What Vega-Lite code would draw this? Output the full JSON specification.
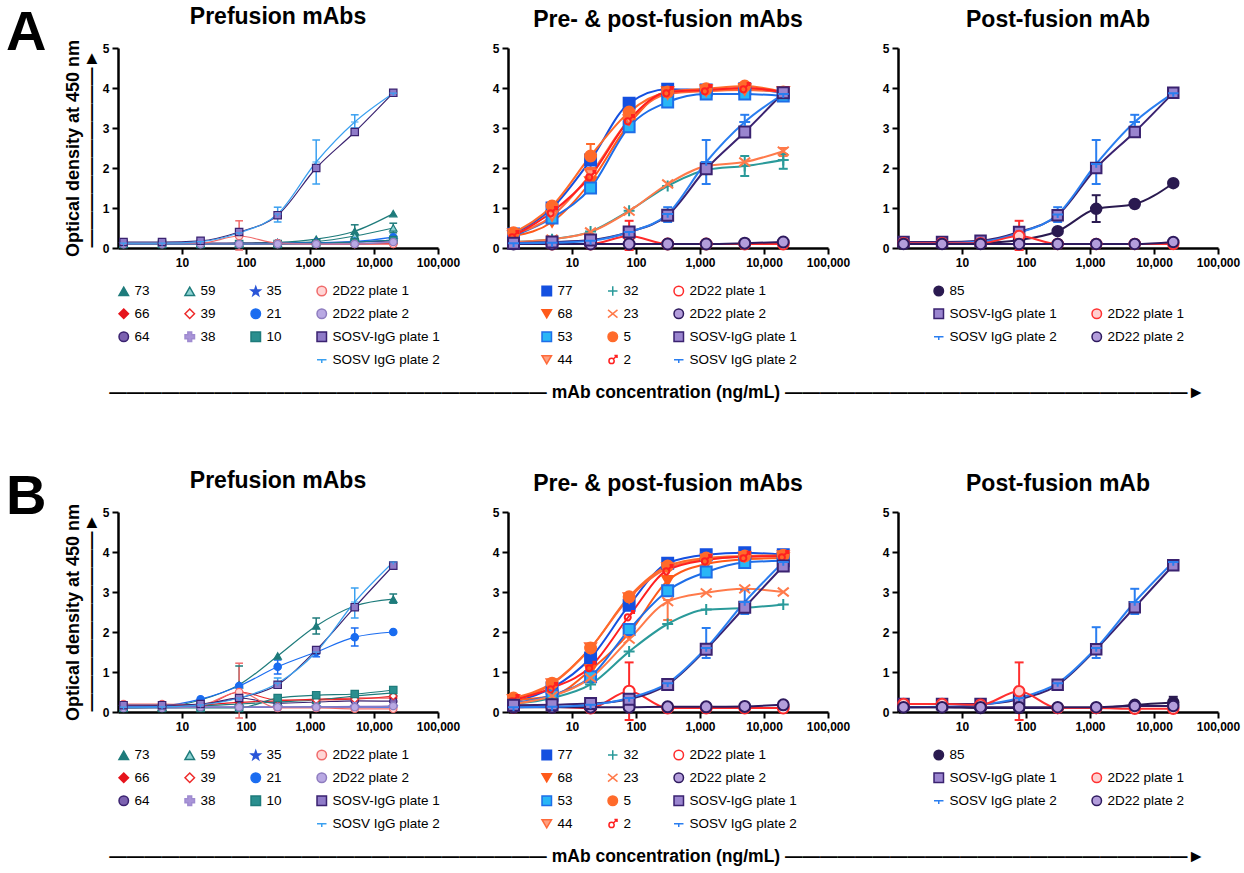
{
"$schema": "https://vega.github.io/schema/vega-lite/v6.json",
"padding": {"left": 5, "top": 5, "right": 5, "bottom": 3},
"background": "white",
"config": {
  "font": "Liberation Sans",
  "view": {"stroke": null},
  "axis": {"grid": false, "domainColor": "#000", "domainWidth": 2.5, "tickColor": "#000", "tickWidth": 2, "tickSize": 6, "labelColor": "#000", "labelFontWeight": "bold", "labelFontSize": 12, "labelPadding": 3, "labelFlush": false, "labelOverlap": false, "titleColor": "#000", "titleFontWeight": "bold", "titleFontSize": 18},
  "title": {"fontSize": 23, "fontWeight": "bold", "color": "#000", "offset": 10, "frame": "group"},
  "legend": {"orient": "bottom", "labelFontSize": 13.5, "labelColor": "#000", "symbolSize": 90, "symbolStrokeWidth": 1.5, "rowPadding": 7, "columnPadding": 32, "offset": 16, "labelLimit": 250, "layout": {"bottom": {"anchor": "middle"}}},
  "concat": {"spacing": 32}
},
"datasets": {
"pts": [
{"p":"A1","s":"73","c":1.22,"y":0.1},{"p":"A1","s":"73","c":4.88,"y":0.1},{"p":"A1","s":"73","c":19.5,"y":0.1},{"p":"A1","s":"73","c":78.1,"y":0.12},{"p":"A1","s":"73","c":312.5,"y":0.14},{"p":"A1","s":"73","c":1250,"y":0.22},{"p":"A1","s":"73","c":5000,"y":0.42},{"p":"A1","s":"73","c":20000,"y":0.86},
{"p":"A1","s":"66","c":1.22,"y":0.1},{"p":"A1","s":"66","c":4.88,"y":0.1},{"p":"A1","s":"66","c":19.5,"y":0.1},{"p":"A1","s":"66","c":78.1,"y":0.1},{"p":"A1","s":"66","c":312.5,"y":0.1},{"p":"A1","s":"66","c":1250,"y":0.1},{"p":"A1","s":"66","c":5000,"y":0.1},{"p":"A1","s":"66","c":20000,"y":0.12},
{"p":"A1","s":"64","c":1.22,"y":0.12},{"p":"A1","s":"64","c":4.88,"y":0.12},{"p":"A1","s":"64","c":19.5,"y":0.12},{"p":"A1","s":"64","c":78.1,"y":0.12},{"p":"A1","s":"64","c":312.5,"y":0.12},{"p":"A1","s":"64","c":1250,"y":0.13},{"p":"A1","s":"64","c":5000,"y":0.15},{"p":"A1","s":"64","c":20000,"y":0.18},
{"p":"A1","s":"59","c":1.22,"y":0.1},{"p":"A1","s":"59","c":4.88,"y":0.1},{"p":"A1","s":"59","c":19.5,"y":0.1},{"p":"A1","s":"59","c":78.1,"y":0.1},{"p":"A1","s":"59","c":312.5,"y":0.12},{"p":"A1","s":"59","c":1250,"y":0.16},{"p":"A1","s":"59","c":5000,"y":0.3},{"p":"A1","s":"59","c":20000,"y":0.5},
{"p":"A1","s":"39","c":1.22,"y":0.1},{"p":"A1","s":"39","c":4.88,"y":0.1},{"p":"A1","s":"39","c":19.5,"y":0.1},{"p":"A1","s":"39","c":78.1,"y":0.1},{"p":"A1","s":"39","c":312.5,"y":0.1},{"p":"A1","s":"39","c":1250,"y":0.1},{"p":"A1","s":"39","c":5000,"y":0.1},{"p":"A1","s":"39","c":20000,"y":0.1},
{"p":"A1","s":"38","c":1.22,"y":0.1},{"p":"A1","s":"38","c":4.88,"y":0.1},{"p":"A1","s":"38","c":19.5,"y":0.1},{"p":"A1","s":"38","c":78.1,"y":0.1},{"p":"A1","s":"38","c":312.5,"y":0.1},{"p":"A1","s":"38","c":1250,"y":0.11},{"p":"A1","s":"38","c":5000,"y":0.12},{"p":"A1","s":"38","c":20000,"y":0.15},
{"p":"A1","s":"35","c":1.22,"y":0.1},{"p":"A1","s":"35","c":4.88,"y":0.1},{"p":"A1","s":"35","c":19.5,"y":0.1},{"p":"A1","s":"35","c":78.1,"y":0.1},{"p":"A1","s":"35","c":312.5,"y":0.11},{"p":"A1","s":"35","c":1250,"y":0.12},{"p":"A1","s":"35","c":5000,"y":0.15},{"p":"A1","s":"35","c":20000,"y":0.2},
{"p":"A1","s":"21","c":1.22,"y":0.1},{"p":"A1","s":"21","c":4.88,"y":0.1},{"p":"A1","s":"21","c":19.5,"y":0.1},{"p":"A1","s":"21","c":78.1,"y":0.1},{"p":"A1","s":"21","c":312.5,"y":0.12},{"p":"A1","s":"21","c":1250,"y":0.13},{"p":"A1","s":"21","c":5000,"y":0.16},{"p":"A1","s":"21","c":20000,"y":0.27},
{"p":"A1","s":"10","c":1.22,"y":0.1},{"p":"A1","s":"10","c":4.88,"y":0.1},{"p":"A1","s":"10","c":19.5,"y":0.1},{"p":"A1","s":"10","c":78.1,"y":0.1},{"p":"A1","s":"10","c":312.5,"y":0.1},{"p":"A1","s":"10","c":1250,"y":0.12},{"p":"A1","s":"10","c":5000,"y":0.15},{"p":"A1","s":"10","c":20000,"y":0.2},
{"p":"A1","s":"2D22 plate 1","c":1.22,"y":0.13},{"p":"A1","s":"2D22 plate 1","c":4.88,"y":0.13},{"p":"A1","s":"2D22 plate 1","c":19.5,"y":0.12},{"p":"A1","s":"2D22 plate 1","c":78.1,"y":0.3},{"p":"A1","s":"2D22 plate 1","c":312.5,"y":0.12},{"p":"A1","s":"2D22 plate 1","c":1250,"y":0.1},{"p":"A1","s":"2D22 plate 1","c":5000,"y":0.1},{"p":"A1","s":"2D22 plate 1","c":20000,"y":0.1},
{"p":"A1","s":"2D22 plate 2","c":1.22,"y":0.1},{"p":"A1","s":"2D22 plate 2","c":4.88,"y":0.1},{"p":"A1","s":"2D22 plate 2","c":19.5,"y":0.1},{"p":"A1","s":"2D22 plate 2","c":78.1,"y":0.1},{"p":"A1","s":"2D22 plate 2","c":312.5,"y":0.1},{"p":"A1","s":"2D22 plate 2","c":1250,"y":0.1},{"p":"A1","s":"2D22 plate 2","c":5000,"y":0.1},{"p":"A1","s":"2D22 plate 2","c":20000,"y":0.15},
{"p":"A1","s":"SOSV-IgG plate 1","c":1.22,"y":0.15},{"p":"A1","s":"SOSV-IgG plate 1","c":4.88,"y":0.15},{"p":"A1","s":"SOSV-IgG plate 1","c":19.5,"y":0.18},{"p":"A1","s":"SOSV-IgG plate 1","c":78.1,"y":0.4},{"p":"A1","s":"SOSV-IgG plate 1","c":312.5,"y":0.82},{"p":"A1","s":"SOSV-IgG plate 1","c":1250,"y":2.0},{"p":"A1","s":"SOSV-IgG plate 1","c":5000,"y":2.9},{"p":"A1","s":"SOSV-IgG plate 1","c":20000,"y":3.88},
{"p":"A1","s":"SOSV IgG plate 2","c":1.22,"y":0.12},{"p":"A1","s":"SOSV IgG plate 2","c":4.88,"y":0.12},{"p":"A1","s":"SOSV IgG plate 2","c":19.5,"y":0.16},{"p":"A1","s":"SOSV IgG plate 2","c":78.1,"y":0.38},{"p":"A1","s":"SOSV IgG plate 2","c":312.5,"y":0.85},{"p":"A1","s":"SOSV IgG plate 2","c":1250,"y":2.15},{"p":"A1","s":"SOSV IgG plate 2","c":5000,"y":3.15},{"p":"A1","s":"SOSV IgG plate 2","c":20000,"y":3.87},

{"p":"A2","s":"77","c":1.22,"y":0.35},{"p":"A2","s":"77","c":4.88,"y":1.0},{"p":"A2","s":"77","c":19.5,"y":2.2},{"p":"A2","s":"77","c":78.1,"y":3.62},{"p":"A2","s":"77","c":312.5,"y":3.97},{"p":"A2","s":"77","c":1250,"y":3.95},{"p":"A2","s":"77","c":5000,"y":3.98},{"p":"A2","s":"77","c":20000,"y":3.88},
{"p":"A2","s":"68","c":1.22,"y":0.3},{"p":"A2","s":"68","c":4.88,"y":0.65},{"p":"A2","s":"68","c":19.5,"y":1.65},{"p":"A2","s":"68","c":78.1,"y":3.1},{"p":"A2","s":"68","c":312.5,"y":3.9},{"p":"A2","s":"68","c":1250,"y":3.95},{"p":"A2","s":"68","c":5000,"y":3.98},{"p":"A2","s":"68","c":20000,"y":3.9},
{"p":"A2","s":"53","c":1.22,"y":0.3},{"p":"A2","s":"53","c":4.88,"y":0.75},{"p":"A2","s":"53","c":19.5,"y":1.5},{"p":"A2","s":"53","c":78.1,"y":3.03},{"p":"A2","s":"53","c":312.5,"y":3.65},{"p":"A2","s":"53","c":1250,"y":3.85},{"p":"A2","s":"53","c":5000,"y":3.85},{"p":"A2","s":"53","c":20000,"y":3.8},
{"p":"A2","s":"44","c":1.22,"y":0.35},{"p":"A2","s":"44","c":4.88,"y":0.8},{"p":"A2","s":"44","c":19.5,"y":1.85},{"p":"A2","s":"44","c":78.1,"y":3.2},{"p":"A2","s":"44","c":312.5,"y":3.85},{"p":"A2","s":"44","c":1250,"y":3.92},{"p":"A2","s":"44","c":5000,"y":3.95},{"p":"A2","s":"44","c":20000,"y":3.9},
{"p":"A2","s":"32","c":1.22,"y":0.15},{"p":"A2","s":"32","c":4.88,"y":0.22},{"p":"A2","s":"32","c":19.5,"y":0.41},{"p":"A2","s":"32","c":78.1,"y":0.93},{"p":"A2","s":"32","c":312.5,"y":1.55},{"p":"A2","s":"32","c":1250,"y":1.95},{"p":"A2","s":"32","c":5000,"y":2.05},{"p":"A2","s":"32","c":20000,"y":2.2},
{"p":"A2","s":"23","c":1.22,"y":0.15},{"p":"A2","s":"23","c":4.88,"y":0.22},{"p":"A2","s":"23","c":19.5,"y":0.4},{"p":"A2","s":"23","c":78.1,"y":0.92},{"p":"A2","s":"23","c":312.5,"y":1.6},{"p":"A2","s":"23","c":1250,"y":2.05},{"p":"A2","s":"23","c":5000,"y":2.15},{"p":"A2","s":"23","c":20000,"y":2.42},
{"p":"A2","s":"5","c":1.22,"y":0.38},{"p":"A2","s":"5","c":4.88,"y":1.05},{"p":"A2","s":"5","c":19.5,"y":2.3},{"p":"A2","s":"5","c":78.1,"y":3.4},{"p":"A2","s":"5","c":312.5,"y":3.9},{"p":"A2","s":"5","c":1250,"y":3.98},{"p":"A2","s":"5","c":5000,"y":4.05},{"p":"A2","s":"5","c":20000,"y":3.9},
{"p":"A2","s":"2","c":1.22,"y":0.3},{"p":"A2","s":"2","c":4.88,"y":0.9},{"p":"A2","s":"2","c":19.5,"y":1.8},{"p":"A2","s":"2","c":78.1,"y":3.2},{"p":"A2","s":"2","c":312.5,"y":3.9},{"p":"A2","s":"2","c":1250,"y":3.95},{"p":"A2","s":"2","c":5000,"y":4.0},{"p":"A2","s":"2","c":20000,"y":3.9},
{"p":"A2","s":"2D22 plate 1","c":1.22,"y":0.12},{"p":"A2","s":"2D22 plate 1","c":4.88,"y":0.1},{"p":"A2","s":"2D22 plate 1","c":19.5,"y":0.1},{"p":"A2","s":"2D22 plate 1","c":78.1,"y":0.3},{"p":"A2","s":"2D22 plate 1","c":312.5,"y":0.1},{"p":"A2","s":"2D22 plate 1","c":1250,"y":0.1},{"p":"A2","s":"2D22 plate 1","c":5000,"y":0.1},{"p":"A2","s":"2D22 plate 1","c":20000,"y":0.1},
{"p":"A2","s":"2D22 plate 2","c":1.22,"y":0.1},{"p":"A2","s":"2D22 plate 2","c":4.88,"y":0.1},{"p":"A2","s":"2D22 plate 2","c":19.5,"y":0.1},{"p":"A2","s":"2D22 plate 2","c":78.1,"y":0.1},{"p":"A2","s":"2D22 plate 2","c":312.5,"y":0.1},{"p":"A2","s":"2D22 plate 2","c":1250,"y":0.1},{"p":"A2","s":"2D22 plate 2","c":5000,"y":0.12},{"p":"A2","s":"2D22 plate 2","c":20000,"y":0.15},
{"p":"A2","s":"SOSV-IgG plate 1","c":1.22,"y":0.12},{"p":"A2","s":"SOSV-IgG plate 1","c":4.88,"y":0.15},{"p":"A2","s":"SOSV-IgG plate 1","c":19.5,"y":0.2},{"p":"A2","s":"SOSV-IgG plate 1","c":78.1,"y":0.4},{"p":"A2","s":"SOSV-IgG plate 1","c":312.5,"y":0.82},{"p":"A2","s":"SOSV-IgG plate 1","c":1250,"y":1.98},{"p":"A2","s":"SOSV-IgG plate 1","c":5000,"y":2.9},{"p":"A2","s":"SOSV-IgG plate 1","c":20000,"y":3.88},
{"p":"A2","s":"SOSV IgG plate 2","c":1.22,"y":0.12},{"p":"A2","s":"SOSV IgG plate 2","c":4.88,"y":0.13},{"p":"A2","s":"SOSV IgG plate 2","c":19.5,"y":0.18},{"p":"A2","s":"SOSV IgG plate 2","c":78.1,"y":0.4},{"p":"A2","s":"SOSV IgG plate 2","c":312.5,"y":0.85},{"p":"A2","s":"SOSV IgG plate 2","c":1250,"y":2.15},{"p":"A2","s":"SOSV IgG plate 2","c":5000,"y":3.15},{"p":"A2","s":"SOSV IgG plate 2","c":20000,"y":3.85},

{"p":"A3","s":"85","c":1.22,"y":0.12},{"p":"A3","s":"85","c":4.88,"y":0.12},{"p":"A3","s":"85","c":19.5,"y":0.13},{"p":"A3","s":"85","c":78.1,"y":0.2},{"p":"A3","s":"85","c":312.5,"y":0.42},{"p":"A3","s":"85","c":1250,"y":0.98},{"p":"A3","s":"85","c":5000,"y":1.1},{"p":"A3","s":"85","c":20000,"y":1.62},
{"p":"A3","s":"SOSV-IgG plate 1","c":1.22,"y":0.15},{"p":"A3","s":"SOSV-IgG plate 1","c":4.88,"y":0.15},{"p":"A3","s":"SOSV-IgG plate 1","c":19.5,"y":0.18},{"p":"A3","s":"SOSV-IgG plate 1","c":78.1,"y":0.4},{"p":"A3","s":"SOSV-IgG plate 1","c":312.5,"y":0.82},{"p":"A3","s":"SOSV-IgG plate 1","c":1250,"y":2.0},{"p":"A3","s":"SOSV-IgG plate 1","c":5000,"y":2.9},{"p":"A3","s":"SOSV-IgG plate 1","c":20000,"y":3.88},
{"p":"A3","s":"SOSV IgG plate 2","c":1.22,"y":0.12},{"p":"A3","s":"SOSV IgG plate 2","c":4.88,"y":0.12},{"p":"A3","s":"SOSV IgG plate 2","c":19.5,"y":0.16},{"p":"A3","s":"SOSV IgG plate 2","c":78.1,"y":0.38},{"p":"A3","s":"SOSV IgG plate 2","c":312.5,"y":0.84},{"p":"A3","s":"SOSV IgG plate 2","c":1250,"y":2.1},{"p":"A3","s":"SOSV IgG plate 2","c":5000,"y":3.15},{"p":"A3","s":"SOSV IgG plate 2","c":20000,"y":3.87},
{"p":"A3","s":"2D22 plate 1","c":1.22,"y":0.12},{"p":"A3","s":"2D22 plate 1","c":4.88,"y":0.12},{"p":"A3","s":"2D22 plate 1","c":19.5,"y":0.12},{"p":"A3","s":"2D22 plate 1","c":78.1,"y":0.3},{"p":"A3","s":"2D22 plate 1","c":312.5,"y":0.1},{"p":"A3","s":"2D22 plate 1","c":1250,"y":0.1},{"p":"A3","s":"2D22 plate 1","c":5000,"y":0.1},{"p":"A3","s":"2D22 plate 1","c":20000,"y":0.1},
{"p":"A3","s":"2D22 plate 2","c":1.22,"y":0.1},{"p":"A3","s":"2D22 plate 2","c":4.88,"y":0.1},{"p":"A3","s":"2D22 plate 2","c":19.5,"y":0.1},{"p":"A3","s":"2D22 plate 2","c":78.1,"y":0.1},{"p":"A3","s":"2D22 plate 2","c":312.5,"y":0.1},{"p":"A3","s":"2D22 plate 2","c":1250,"y":0.1},{"p":"A3","s":"2D22 plate 2","c":5000,"y":0.1},{"p":"A3","s":"2D22 plate 2","c":20000,"y":0.15},

{"p":"B1","s":"73","c":1.22,"y":0.1},{"p":"B1","s":"73","c":4.88,"y":0.12},{"p":"B1","s":"73","c":19.5,"y":0.3},{"p":"B1","s":"73","c":78.1,"y":0.68},{"p":"B1","s":"73","c":312.5,"y":1.4},{"p":"B1","s":"73","c":1250,"y":2.15},{"p":"B1","s":"73","c":5000,"y":2.65},{"p":"B1","s":"73","c":20000,"y":2.82},
{"p":"B1","s":"66","c":1.22,"y":0.12},{"p":"B1","s":"66","c":4.88,"y":0.15},{"p":"B1","s":"66","c":19.5,"y":0.18},{"p":"B1","s":"66","c":78.1,"y":0.24},{"p":"B1","s":"66","c":312.5,"y":0.28},{"p":"B1","s":"66","c":1250,"y":0.32},{"p":"B1","s":"66","c":5000,"y":0.35},{"p":"B1","s":"66","c":20000,"y":0.35},
{"p":"B1","s":"64","c":1.22,"y":0.15},{"p":"B1","s":"64","c":4.88,"y":0.15},{"p":"B1","s":"64","c":19.5,"y":0.18},{"p":"B1","s":"64","c":78.1,"y":0.35},{"p":"B1","s":"64","c":312.5,"y":0.22},{"p":"B1","s":"64","c":1250,"y":0.25},{"p":"B1","s":"64","c":5000,"y":0.28},{"p":"B1","s":"64","c":20000,"y":0.27},
{"p":"B1","s":"59","c":1.22,"y":0.1},{"p":"B1","s":"59","c":4.88,"y":0.12},{"p":"B1","s":"59","c":19.5,"y":0.15},{"p":"B1","s":"59","c":78.1,"y":0.2},{"p":"B1","s":"59","c":312.5,"y":0.25},{"p":"B1","s":"59","c":1250,"y":0.3},{"p":"B1","s":"59","c":5000,"y":0.4},{"p":"B1","s":"59","c":20000,"y":0.48},
{"p":"B1","s":"39","c":1.22,"y":0.15},{"p":"B1","s":"39","c":4.88,"y":0.15},{"p":"B1","s":"39","c":19.5,"y":0.15},{"p":"B1","s":"39","c":78.1,"y":0.5},{"p":"B1","s":"39","c":312.5,"y":0.3},{"p":"B1","s":"39","c":1250,"y":0.3},{"p":"B1","s":"39","c":5000,"y":0.32},{"p":"B1","s":"39","c":20000,"y":0.4},
{"p":"B1","s":"38","c":1.22,"y":0.12},{"p":"B1","s":"38","c":4.88,"y":0.12},{"p":"B1","s":"38","c":19.5,"y":0.12},{"p":"B1","s":"38","c":78.1,"y":0.12},{"p":"B1","s":"38","c":312.5,"y":0.12},{"p":"B1","s":"38","c":1250,"y":0.13},{"p":"B1","s":"38","c":5000,"y":0.14},{"p":"B1","s":"38","c":20000,"y":0.15},
{"p":"B1","s":"35","c":1.22,"y":0.12},{"p":"B1","s":"35","c":4.88,"y":0.12},{"p":"B1","s":"35","c":19.5,"y":0.12},{"p":"B1","s":"35","c":78.1,"y":0.12},{"p":"B1","s":"35","c":312.5,"y":0.12},{"p":"B1","s":"35","c":1250,"y":0.12},{"p":"B1","s":"35","c":5000,"y":0.12},{"p":"B1","s":"35","c":20000,"y":0.12},
{"p":"B1","s":"21","c":1.22,"y":0.12},{"p":"B1","s":"21","c":4.88,"y":0.15},{"p":"B1","s":"21","c":19.5,"y":0.32},{"p":"B1","s":"21","c":78.1,"y":0.65},{"p":"B1","s":"21","c":312.5,"y":1.13},{"p":"B1","s":"21","c":1250,"y":1.5},{"p":"B1","s":"21","c":5000,"y":1.87},{"p":"B1","s":"21","c":20000,"y":2.0},
{"p":"B1","s":"10","c":1.22,"y":0.1},{"p":"B1","s":"10","c":4.88,"y":0.1},{"p":"B1","s":"10","c":19.5,"y":0.1},{"p":"B1","s":"10","c":78.1,"y":0.1},{"p":"B1","s":"10","c":312.5,"y":0.35},{"p":"B1","s":"10","c":1250,"y":0.42},{"p":"B1","s":"10","c":5000,"y":0.45},{"p":"B1","s":"10","c":20000,"y":0.55},
{"p":"B1","s":"2D22 plate 1","c":1.22,"y":0.2},{"p":"B1","s":"2D22 plate 1","c":4.88,"y":0.2},{"p":"B1","s":"2D22 plate 1","c":19.5,"y":0.18},{"p":"B1","s":"2D22 plate 1","c":78.1,"y":0.5},{"p":"B1","s":"2D22 plate 1","c":312.5,"y":0.1},{"p":"B1","s":"2D22 plate 1","c":1250,"y":0.1},{"p":"B1","s":"2D22 plate 1","c":5000,"y":0.08},{"p":"B1","s":"2D22 plate 1","c":20000,"y":0.08},
{"p":"B1","s":"2D22 plate 2","c":1.22,"y":0.1},{"p":"B1","s":"2D22 plate 2","c":4.88,"y":0.1},{"p":"B1","s":"2D22 plate 2","c":19.5,"y":0.12},{"p":"B1","s":"2D22 plate 2","c":78.1,"y":0.12},{"p":"B1","s":"2D22 plate 2","c":312.5,"y":0.12},{"p":"B1","s":"2D22 plate 2","c":1250,"y":0.12},{"p":"B1","s":"2D22 plate 2","c":5000,"y":0.12},{"p":"B1","s":"2D22 plate 2","c":20000,"y":0.15},
{"p":"B1","s":"SOSV-IgG plate 1","c":1.22,"y":0.17},{"p":"B1","s":"SOSV-IgG plate 1","c":4.88,"y":0.17},{"p":"B1","s":"SOSV-IgG plate 1","c":19.5,"y":0.2},{"p":"B1","s":"SOSV-IgG plate 1","c":78.1,"y":0.35},{"p":"B1","s":"SOSV-IgG plate 1","c":312.5,"y":0.68},{"p":"B1","s":"SOSV-IgG plate 1","c":1250,"y":1.55},{"p":"B1","s":"SOSV-IgG plate 1","c":5000,"y":2.62},{"p":"B1","s":"SOSV-IgG plate 1","c":20000,"y":3.66},
{"p":"B1","s":"SOSV IgG plate 2","c":1.22,"y":0.12},{"p":"B1","s":"SOSV IgG plate 2","c":4.88,"y":0.13},{"p":"B1","s":"SOSV IgG plate 2","c":19.5,"y":0.18},{"p":"B1","s":"SOSV IgG plate 2","c":78.1,"y":0.35},{"p":"B1","s":"SOSV IgG plate 2","c":312.5,"y":0.72},{"p":"B1","s":"SOSV IgG plate 2","c":1250,"y":1.5},{"p":"B1","s":"SOSV IgG plate 2","c":5000,"y":2.75},{"p":"B1","s":"SOSV IgG plate 2","c":20000,"y":3.75},

{"p":"B2","s":"77","c":1.22,"y":0.25},{"p":"B2","s":"77","c":4.88,"y":0.6},{"p":"B2","s":"77","c":19.5,"y":1.35},{"p":"B2","s":"77","c":78.1,"y":2.67},{"p":"B2","s":"77","c":312.5,"y":3.72},{"p":"B2","s":"77","c":1250,"y":3.93},{"p":"B2","s":"77","c":5000,"y":3.98},{"p":"B2","s":"77","c":20000,"y":3.93},
{"p":"B2","s":"68","c":1.22,"y":0.3},{"p":"B2","s":"68","c":4.88,"y":0.4},{"p":"B2","s":"68","c":19.5,"y":1.05},{"p":"B2","s":"68","c":78.1,"y":1.97},{"p":"B2","s":"68","c":312.5,"y":3.28},{"p":"B2","s":"68","c":1250,"y":3.7},{"p":"B2","s":"68","c":5000,"y":3.82},{"p":"B2","s":"68","c":20000,"y":3.85},
{"p":"B2","s":"53","c":1.22,"y":0.22},{"p":"B2","s":"53","c":4.88,"y":0.42},{"p":"B2","s":"53","c":19.5,"y":0.88},{"p":"B2","s":"53","c":78.1,"y":2.06},{"p":"B2","s":"53","c":312.5,"y":3.03},{"p":"B2","s":"53","c":1250,"y":3.5},{"p":"B2","s":"53","c":5000,"y":3.74},{"p":"B2","s":"53","c":20000,"y":3.78},
{"p":"B2","s":"44","c":1.22,"y":0.3},{"p":"B2","s":"44","c":4.88,"y":0.7},{"p":"B2","s":"44","c":19.5,"y":1.6},{"p":"B2","s":"44","c":78.1,"y":2.85},{"p":"B2","s":"44","c":312.5,"y":3.6},{"p":"B2","s":"44","c":1250,"y":3.82},{"p":"B2","s":"44","c":5000,"y":3.88},{"p":"B2","s":"44","c":20000,"y":3.9},
{"p":"B2","s":"32","c":1.22,"y":0.2},{"p":"B2","s":"32","c":4.88,"y":0.35},{"p":"B2","s":"32","c":19.5,"y":0.69},{"p":"B2","s":"32","c":78.1,"y":1.51},{"p":"B2","s":"32","c":312.5,"y":2.2},{"p":"B2","s":"32","c":1250,"y":2.56},{"p":"B2","s":"32","c":5000,"y":2.6},{"p":"B2","s":"32","c":20000,"y":2.69},
{"p":"B2","s":"23","c":1.22,"y":0.2},{"p":"B2","s":"23","c":4.88,"y":0.4},{"p":"B2","s":"23","c":19.5,"y":0.85},{"p":"B2","s":"23","c":78.1,"y":1.82},{"p":"B2","s":"23","c":312.5,"y":2.76},{"p":"B2","s":"23","c":1250,"y":2.98},{"p":"B2","s":"23","c":5000,"y":3.08},{"p":"B2","s":"23","c":20000,"y":3.0},
{"p":"B2","s":"5","c":1.22,"y":0.35},{"p":"B2","s":"5","c":4.88,"y":0.72},{"p":"B2","s":"5","c":19.5,"y":1.6},{"p":"B2","s":"5","c":78.1,"y":2.88},{"p":"B2","s":"5","c":312.5,"y":3.65},{"p":"B2","s":"5","c":1250,"y":3.85},{"p":"B2","s":"5","c":5000,"y":3.9},{"p":"B2","s":"5","c":20000,"y":3.92},
{"p":"B2","s":"2","c":1.22,"y":0.3},{"p":"B2","s":"2","c":4.88,"y":0.6},{"p":"B2","s":"2","c":19.5,"y":1.13},{"p":"B2","s":"2","c":78.1,"y":2.4},{"p":"B2","s":"2","c":312.5,"y":3.55},{"p":"B2","s":"2","c":1250,"y":3.8},{"p":"B2","s":"2","c":5000,"y":3.88},{"p":"B2","s":"2","c":20000,"y":3.9},
{"p":"B2","s":"2D22 plate 1","c":1.22,"y":0.12},{"p":"B2","s":"2D22 plate 1","c":4.88,"y":0.13},{"p":"B2","s":"2D22 plate 1","c":19.5,"y":0.1},{"p":"B2","s":"2D22 plate 1","c":78.1,"y":0.52},{"p":"B2","s":"2D22 plate 1","c":312.5,"y":0.1},{"p":"B2","s":"2D22 plate 1","c":1250,"y":0.1},{"p":"B2","s":"2D22 plate 1","c":5000,"y":0.1},{"p":"B2","s":"2D22 plate 1","c":20000,"y":0.1},
{"p":"B2","s":"2D22 plate 2","c":1.22,"y":0.12},{"p":"B2","s":"2D22 plate 2","c":4.88,"y":0.12},{"p":"B2","s":"2D22 plate 2","c":19.5,"y":0.12},{"p":"B2","s":"2D22 plate 2","c":78.1,"y":0.12},{"p":"B2","s":"2D22 plate 2","c":312.5,"y":0.13},{"p":"B2","s":"2D22 plate 2","c":1250,"y":0.13},{"p":"B2","s":"2D22 plate 2","c":5000,"y":0.14},{"p":"B2","s":"2D22 plate 2","c":20000,"y":0.18},
{"p":"B2","s":"SOSV-IgG plate 1","c":1.22,"y":0.17},{"p":"B2","s":"SOSV-IgG plate 1","c":4.88,"y":0.18},{"p":"B2","s":"SOSV-IgG plate 1","c":19.5,"y":0.21},{"p":"B2","s":"SOSV-IgG plate 1","c":78.1,"y":0.32},{"p":"B2","s":"SOSV-IgG plate 1","c":312.5,"y":0.69},{"p":"B2","s":"SOSV-IgG plate 1","c":1250,"y":1.57},{"p":"B2","s":"SOSV-IgG plate 1","c":5000,"y":2.62},{"p":"B2","s":"SOSV-IgG plate 1","c":20000,"y":3.65},
{"p":"B2","s":"SOSV IgG plate 2","c":1.22,"y":0.12},{"p":"B2","s":"SOSV IgG plate 2","c":4.88,"y":0.13},{"p":"B2","s":"SOSV IgG plate 2","c":19.5,"y":0.18},{"p":"B2","s":"SOSV IgG plate 2","c":78.1,"y":0.35},{"p":"B2","s":"SOSV IgG plate 2","c":312.5,"y":0.72},{"p":"B2","s":"SOSV IgG plate 2","c":1250,"y":1.6},{"p":"B2","s":"SOSV IgG plate 2","c":5000,"y":2.75},{"p":"B2","s":"SOSV IgG plate 2","c":20000,"y":3.75},

{"p":"B3","s":"85","c":1.22,"y":0.12},{"p":"B3","s":"85","c":4.88,"y":0.12},{"p":"B3","s":"85","c":19.5,"y":0.1},{"p":"B3","s":"85","c":78.1,"y":0.1},{"p":"B3","s":"85","c":312.5,"y":0.1},{"p":"B3","s":"85","c":1250,"y":0.1},{"p":"B3","s":"85","c":5000,"y":0.18},{"p":"B3","s":"85","c":20000,"y":0.24},
{"p":"B3","s":"SOSV-IgG plate 1","c":1.22,"y":0.2},{"p":"B3","s":"SOSV-IgG plate 1","c":4.88,"y":0.2},{"p":"B3","s":"SOSV-IgG plate 1","c":19.5,"y":0.2},{"p":"B3","s":"SOSV-IgG plate 1","c":78.1,"y":0.32},{"p":"B3","s":"SOSV-IgG plate 1","c":312.5,"y":0.68},{"p":"B3","s":"SOSV-IgG plate 1","c":1250,"y":1.57},{"p":"B3","s":"SOSV-IgG plate 1","c":5000,"y":2.62},{"p":"B3","s":"SOSV-IgG plate 1","c":20000,"y":3.67},
{"p":"B3","s":"SOSV IgG plate 2","c":1.22,"y":0.12},{"p":"B3","s":"SOSV IgG plate 2","c":4.88,"y":0.13},{"p":"B3","s":"SOSV IgG plate 2","c":19.5,"y":0.18},{"p":"B3","s":"SOSV IgG plate 2","c":78.1,"y":0.35},{"p":"B3","s":"SOSV IgG plate 2","c":312.5,"y":0.72},{"p":"B3","s":"SOSV IgG plate 2","c":1250,"y":1.6},{"p":"B3","s":"SOSV IgG plate 2","c":5000,"y":2.75},{"p":"B3","s":"SOSV IgG plate 2","c":20000,"y":3.75},
{"p":"B3","s":"2D22 plate 1","c":1.22,"y":0.2},{"p":"B3","s":"2D22 plate 1","c":4.88,"y":0.2},{"p":"B3","s":"2D22 plate 1","c":19.5,"y":0.18},{"p":"B3","s":"2D22 plate 1","c":78.1,"y":0.52},{"p":"B3","s":"2D22 plate 1","c":312.5,"y":0.1},{"p":"B3","s":"2D22 plate 1","c":1250,"y":0.1},{"p":"B3","s":"2D22 plate 1","c":5000,"y":0.08},{"p":"B3","s":"2D22 plate 1","c":20000,"y":0.08},
{"p":"B3","s":"2D22 plate 2","c":1.22,"y":0.12},{"p":"B3","s":"2D22 plate 2","c":4.88,"y":0.12},{"p":"B3","s":"2D22 plate 2","c":19.5,"y":0.12},{"p":"B3","s":"2D22 plate 2","c":78.1,"y":0.12},{"p":"B3","s":"2D22 plate 2","c":312.5,"y":0.12},{"p":"B3","s":"2D22 plate 2","c":1250,"y":0.12},{"p":"B3","s":"2D22 plate 2","c":5000,"y":0.15},{"p":"B3","s":"2D22 plate 2","c":20000,"y":0.15}
],
"err": [
{"p":"A1","s":"2D22 plate 1","c":78.1,"lo":-0.05,"hi":0.68},
{"p":"A1","s":"SOSV IgG plate 2","c":312.5,"lo":0.65,"hi":1.02},
{"p":"A1","s":"SOSV IgG plate 2","c":1250,"lo":1.6,"hi":2.7},
{"p":"A1","s":"SOSV IgG plate 2","c":5000,"lo":3.0,"hi":3.33},
{"p":"A1","s":"73","c":5000,"lo":0.28,"hi":0.58},
{"p":"A1","s":"59","c":20000,"lo":0.38,"hi":0.62},
{"p":"A2","s":"2D22 plate 1","c":78.1,"lo":-0.05,"hi":0.68},
{"p":"A2","s":"SOSV IgG plate 2","c":312.5,"lo":0.65,"hi":1.02},
{"p":"A2","s":"SOSV IgG plate 2","c":1250,"lo":1.6,"hi":2.7},
{"p":"A2","s":"SOSV IgG plate 2","c":5000,"lo":3.0,"hi":3.33},
{"p":"A2","s":"5","c":19.5,"lo":1.95,"hi":2.6},
{"p":"A2","s":"68","c":78.1,"lo":3.0,"hi":3.42},
{"p":"A2","s":"44","c":19.5,"lo":1.7,"hi":2.0},
{"p":"A2","s":"32","c":5000,"lo":1.8,"hi":2.3},
{"p":"A2","s":"32","c":20000,"lo":1.98,"hi":2.35},
{"p":"A2","s":"23","c":20000,"lo":2.3,"hi":2.5},
{"p":"A3","s":"2D22 plate 1","c":78.1,"lo":-0.05,"hi":0.68},
{"p":"A3","s":"SOSV IgG plate 2","c":312.5,"lo":0.65,"hi":1.02},
{"p":"A3","s":"SOSV IgG plate 2","c":1250,"lo":1.6,"hi":2.7},
{"p":"A3","s":"SOSV IgG plate 2","c":5000,"lo":3.0,"hi":3.33},
{"p":"A3","s":"85","c":1250,"lo":0.65,"hi":1.32},
{"p":"B1","s":"73","c":78.1,"lo":0.2,"hi":1.15},
{"p":"B1","s":"73","c":1250,"lo":1.95,"hi":2.35},
{"p":"B1","s":"73","c":20000,"lo":2.72,"hi":2.95},
{"p":"B1","s":"21","c":312.5,"lo":0.95,"hi":1.3},
{"p":"B1","s":"21","c":1250,"lo":1.38,"hi":1.62},
{"p":"B1","s":"21","c":5000,"lo":1.65,"hi":2.1},
{"p":"B1","s":"SOSV IgG plate 2","c":312.5,"lo":0.6,"hi":0.85},
{"p":"B1","s":"SOSV IgG plate 2","c":5000,"lo":2.35,"hi":3.1},
{"p":"B1","s":"2D22 plate 1","c":78.1,"lo":-0.15,"hi":1.22},
{"p":"B2","s":"2D22 plate 1","c":78.1,"lo":-0.2,"hi":1.24},
{"p":"B2","s":"SOSV IgG plate 2","c":1250,"lo":1.35,"hi":2.1},
{"p":"B2","s":"SOSV IgG plate 2","c":5000,"lo":2.45,"hi":3.05},
{"p":"B2","s":"23","c":312.5,"lo":2.3,"hi":2.8},
{"p":"B2","s":"2","c":19.5,"lo":1.0,"hi":1.22},
{"p":"B3","s":"2D22 plate 1","c":78.1,"lo":-0.2,"hi":1.24},
{"p":"B3","s":"SOSV IgG plate 2","c":1250,"lo":1.35,"hi":2.12},
{"p":"B3","s":"SOSV IgG plate 2","c":5000,"lo":2.45,"hi":3.08},
{"p":"B3","s":"85","c":20000,"lo":0.15,"hi":0.38}
]
},
"resolve": {"scale": {"stroke": "independent", "fill": "independent", "shape": "independent"}, "legend": {"stroke": "independent", "fill": "independent", "shape": "independent"}},
"spacing": 67,
"vconcat": [
{
"title": {"text": "A", "orient": "left", "anchor": "end", "angle": 0, "align": "left", "baseline": "top", "fontSize": 56, "offset": 18, "frame": "bounds"},
"resolve": {"scale": {"stroke": "independent", "fill": "independent", "shape": "independent"}, "legend": {"stroke": "independent", "fill": "independent", "shape": "independent"}},
"vconcat": [
{
"title": {"text": "————————————————————————— mAb concentration (ng/mL) ———————————————————————►", "orient": "bottom", "fontSize": 17.5, "offset": 16, "frame": "bounds", "dx": 45},
"resolve": {"scale": {"stroke": "independent", "fill": "independent", "shape": "independent"}, "legend": {"stroke": "independent", "fill": "independent", "shape": "independent"}},
"hconcat": [
{
"width": 320, "height": 200, "title": "Prefusion mAbs",
"encoding": {
  "x": {"field": "c", "type": "quantitative", "scale": {"type": "log", "domain": [1, 100000], "nice": false}, "axis": {"values": [10, 100, 1000, 10000, 100000], "format": ",", "title": null}},
  "y": {"field": "y", "type": "quantitative", "scale": {"domain": [0, 5], "nice": false}, "axis": {"values": [0, 1, 2, 3, 4, 5], "title": ["Optical density at 450 nm", "——————————►"], "titlePadding": 2, "titleLineHeight": 18}},
  "stroke": {"field": "s", "type": "nominal", "scale": {"domain": ["73","59","35","2D22 plate 1","66","39","21","2D22 plate 2","64","38","10","SOSV-IgG plate 1","_1","_2","_3","SOSV IgG plate 2"], "range": ["#1e7b7b","#1e7b7b","#2a55d8","#f06b6b","#e6141c","#ee2a2a","#1a6cf0","#8e7cbf","#3a2270","#9f8bd0","#1e7b7b","#3a2270","transparent","transparent","transparent","#3aa0f0"]}, "legend": {"columns": 4, "title": null, "labelExpr": "indexof(datum.label,'_')==0 ? '' : datum.label"}}
},
"layer": [
{"data": {"name": "pts"}, "transform": [{"filter": "datum.p=='A1'"}], "mark": {"type": "line", "interpolate": "monotone", "strokeWidth": 1.2}, "encoding": {}},
{"data": {"name": "err"}, "transform": [{"filter": "datum.p=='A1'"}], "mark": {"type": "rule", "strokeWidth": 1.5},
 "encoding": {"y": {"field": "lo", "type": "quantitative", "scale": {"domain": [0, 5], "nice": false}, "axis": {"values": [0, 1, 2, 3, 4, 5], "title": ["Optical density at 450 nm", "——————————►"], "titlePadding": 2, "titleLineHeight": 18}}, "y2": {"field": "hi"}}},
{"data": {"name": "err"}, "transform": [{"filter": "datum.p=='A1'"}], "mark": {"type": "point", "shape": "stroke", "size": 60, "strokeWidth": 1.5, "opacity": 1},
 "encoding": {"y": {"field": "lo", "type": "quantitative", "scale": {"domain": [0, 5], "nice": false}, "axis": {"values": [0, 1, 2, 3, 4, 5], "title": ["Optical density at 450 nm", "——————————►"], "titlePadding": 2, "titleLineHeight": 18}}}},
{"data": {"name": "err"}, "transform": [{"filter": "datum.p=='A1'"}], "mark": {"type": "point", "shape": "stroke", "size": 60, "strokeWidth": 1.5, "opacity": 1},
 "encoding": {"y": {"field": "hi", "type": "quantitative", "scale": {"domain": [0, 5], "nice": false}, "axis": {"values": [0, 1, 2, 3, 4, 5], "title": ["Optical density at 450 nm", "——————————►"], "titlePadding": 2, "titleLineHeight": 18}}}},
{"data": {"name": "pts"}, "transform": [{"filter": "datum.p=='A1'"}], "mark": {"type": "point", "filled": true, "size": 55, "strokeWidth": 1.2, "opacity": 1},
 "encoding": {
  "fill": {"field": "s", "type": "nominal", "scale": {"domain": ["73","59","35","2D22 plate 1","66","39","21","2D22 plate 2","64","38","10","SOSV-IgG plate 1","_1","_2","_3","SOSV IgG plate 2"], "range": ["#1e7b7b","#8fd3d3","#2a55d8","#ffd6d6","#e6141c","#ffffff","#1a6cf0","#b9a9e3","#7c62b0","#a994d8","#2a8f8f","#8f7bc8","transparent","transparent","transparent","#3aa0f0"]}, "legend": {"columns": 4, "title": null, "labelExpr": "indexof(datum.label,'_')==0 ? '' : datum.label"}},
  "shape": {"field": "s", "type": "nominal", "scale": {"domain": ["73","59","35","2D22 plate 1","66","39","21","2D22 plate 2","64","38","10","SOSV-IgG plate 1","_1","_2","_3","SOSV IgG plate 2"], "range": ["triangle-up","triangle-up","M0,-1L0.235,-0.324L0.951,-0.309L0.38,0.124L0.588,0.809L0,0.4L-0.588,0.809L-0.38,0.124L-0.951,-0.309L-0.235,-0.324Z","circle","diamond","diamond","circle","circle","circle","cross","square","square","circle","circle","circle","M-1,0L1,0M0,0L0,0.7"]}, "legend": {"columns": 4, "title": null, "labelExpr": "indexof(datum.label,'_')==0 ? '' : datum.label"}}
 }}
]
},
{
"width": 320, "height": 200, "title": "Pre- & post-fusion mAbs",
"encoding": {
  "x": {"field": "c", "type": "quantitative", "scale": {"type": "log", "domain": [1, 100000], "nice": false}, "axis": {"values": [10, 100, 1000, 10000, 100000], "format": ",", "title": null}},
  "y": {"field": "y", "type": "quantitative", "scale": {"domain": [0, 5], "nice": false}, "axis": {"values": [0, 1, 2, 3, 4, 5], "title": null}},
  "stroke": {"field": "s", "type": "nominal", "scale": {"domain": ["77","32","2D22 plate 1","68","23","2D22 plate 2","53","5","SOSV-IgG plate 1","44","2","SOSV IgG plate 2"], "range": ["#1450e0","#2a9a9a","#ff2a2a","#ff5a1a","#ff7a4a","#2e1a5e","#1e6ee8","#ff6a2a","#3a2270","#ff6a3a","#ff2020","#2a7ef0"]}, "legend": {"columns": 3, "title": null}}
},
"layer": [
{"data": {"name": "pts"}, "transform": [{"filter": "datum.p=='A2'"}], "mark": {"type": "line", "interpolate": "monotone", "strokeWidth": 2}, "encoding": {}},
{"data": {"name": "err"}, "transform": [{"filter": "datum.p=='A2'"}], "mark": {"type": "rule", "strokeWidth": 2},
 "encoding": {"y": {"field": "lo", "type": "quantitative", "scale": {"domain": [0, 5], "nice": false}, "axis": {"values": [0, 1, 2, 3, 4, 5], "title": null}}, "y2": {"field": "hi"}}},
{"data": {"name": "err"}, "transform": [{"filter": "datum.p=='A2'"}], "mark": {"type": "point", "shape": "stroke", "size": 80, "strokeWidth": 2, "opacity": 1},
 "encoding": {"y": {"field": "lo", "type": "quantitative", "scale": {"domain": [0, 5], "nice": false}, "axis": {"values": [0, 1, 2, 3, 4, 5], "title": null}}}},
{"data": {"name": "err"}, "transform": [{"filter": "datum.p=='A2'"}], "mark": {"type": "point", "shape": "stroke", "size": 80, "strokeWidth": 2, "opacity": 1},
 "encoding": {"y": {"field": "hi", "type": "quantitative", "scale": {"domain": [0, 5], "nice": false}, "axis": {"values": [0, 1, 2, 3, 4, 5], "title": null}}}},
{"data": {"name": "pts"}, "transform": [{"filter": "datum.p=='A2'"}], "mark": {"type": "point", "filled": true, "size": 120, "strokeWidth": 2, "opacity": 1},
 "encoding": {
  "fill": {"field": "s", "type": "nominal", "scale": {"domain": ["77","32","2D22 plate 1","68","23","2D22 plate 2","53","5","SOSV-IgG plate 1","44","2","SOSV IgG plate 2"], "range": ["#1450e0","#5cc8c8","#ffffff","#ff5a1a","#ff8a5a","#b39ddb","#29b6f6","#ff6a2a","#9a85cf","#ffa080","transparent","#2a7ef0"]}, "legend": {"columns": 3, "title": null}},
  "shape": {"field": "s", "type": "nominal", "scale": {"domain": ["77","32","2D22 plate 1","68","23","2D22 plate 2","53","5","SOSV-IgG plate 1","44","2","SOSV IgG plate 2"], "range": ["square","M-1,0L1,0M0,-1L0,1","circle","triangle-down","M-1,-0.8L1,0.8M-1,0.8L1,-0.8","circle","square","circle","square","triangle-down","M-0.8,0.25a0.55,0.55 0 1,0 1.1,0a0.55,0.55 0 1,0 -1.1,0M0.14,-0.14L0.9,-0.9M0.35,-0.9L0.9,-0.9L0.9,-0.35","M-1,0L1,0M0,0L0,0.7"]}, "legend": {"columns": 3, "title": null}}
 }}
]
},
{
"width": 320, "height": 200, "title": "Post-fusion mAb",
"encoding": {
  "x": {"field": "c", "type": "quantitative", "scale": {"type": "log", "domain": [1, 100000], "nice": false}, "axis": {"values": [10, 100, 1000, 10000, 100000], "format": ",", "title": null}},
  "y": {"field": "y", "type": "quantitative", "scale": {"domain": [0, 5], "nice": false}, "axis": {"values": [0, 1, 2, 3, 4, 5], "title": null}},
  "stroke": {"field": "s", "type": "nominal", "scale": {"domain": ["85","_1","SOSV-IgG plate 1","2D22 plate 1","SOSV IgG plate 2","2D22 plate 2"], "range": ["#2a1a50","transparent","#3a2270","#ff3030","#2a7ef0","#2e1a5e"]}, "legend": {"columns": 2, "title": null, "labelExpr": "indexof(datum.label,'_')==0 ? '' : datum.label"}}
},
"layer": [
{"data": {"name": "pts"}, "transform": [{"filter": "datum.p=='A3'"}], "mark": {"type": "line", "interpolate": "monotone", "strokeWidth": 2}, "encoding": {}},
{"data": {"name": "err"}, "transform": [{"filter": "datum.p=='A3'"}], "mark": {"type": "rule", "strokeWidth": 2},
 "encoding": {"y": {"field": "lo", "type": "quantitative", "scale": {"domain": [0, 5], "nice": false}, "axis": {"values": [0, 1, 2, 3, 4, 5], "title": null}}, "y2": {"field": "hi"}}},
{"data": {"name": "err"}, "transform": [{"filter": "datum.p=='A3'"}], "mark": {"type": "point", "shape": "stroke", "size": 80, "strokeWidth": 2, "opacity": 1},
 "encoding": {"y": {"field": "lo", "type": "quantitative", "scale": {"domain": [0, 5], "nice": false}, "axis": {"values": [0, 1, 2, 3, 4, 5], "title": null}}}},
{"data": {"name": "err"}, "transform": [{"filter": "datum.p=='A3'"}], "mark": {"type": "point", "shape": "stroke", "size": 80, "strokeWidth": 2, "opacity": 1},
 "encoding": {"y": {"field": "hi", "type": "quantitative", "scale": {"domain": [0, 5], "nice": false}, "axis": {"values": [0, 1, 2, 3, 4, 5], "title": null}}}},
{"data": {"name": "pts"}, "transform": [{"filter": "datum.p=='A3'"}], "mark": {"type": "point", "filled": true, "size": 110, "strokeWidth": 2, "opacity": 1},
 "encoding": {
  "fill": {"field": "s", "type": "nominal", "scale": {"domain": ["85","_1","SOSV-IgG plate 1","2D22 plate 1","SOSV IgG plate 2","2D22 plate 2"], "range": ["#2a1a50","transparent","#9a85cf","#ffd0d0","#2a7ef0","#b39ddb"]}, "legend": {"columns": 2, "title": null, "labelExpr": "indexof(datum.label,'_')==0 ? '' : datum.label"}},
  "shape": {"field": "s", "type": "nominal", "scale": {"domain": ["85","_1","SOSV-IgG plate 1","2D22 plate 1","SOSV IgG plate 2","2D22 plate 2"], "range": ["circle","circle","square","circle","M-1,0L1,0M0,0L0,0.7","circle"]}, "legend": {"columns": 2, "title": null, "labelExpr": "indexof(datum.label,'_')==0 ? '' : datum.label"}}
 }}
]
}
]
}
]
},
{
"title": {"text": "B", "orient": "left", "anchor": "end", "angle": 0, "align": "left", "baseline": "top", "fontSize": 56, "offset": 18, "frame": "bounds"},
"resolve": {"scale": {"stroke": "independent", "fill": "independent", "shape": "independent"}, "legend": {"stroke": "independent", "fill": "independent", "shape": "independent"}},
"vconcat": [
{
"title": {"text": "————————————————————————— mAb concentration (ng/mL) ———————————————————————►", "orient": "bottom", "fontSize": 17.5, "offset": 16, "frame": "bounds", "dx": 45},
"resolve": {"scale": {"stroke": "independent", "fill": "independent", "shape": "independent"}, "legend": {"stroke": "independent", "fill": "independent", "shape": "independent"}},
"hconcat": [
{
"width": 320, "height": 200, "title": "Prefusion mAbs",
"encoding": {
  "x": {"field": "c", "type": "quantitative", "scale": {"type": "log", "domain": [1, 100000], "nice": false}, "axis": {"values": [10, 100, 1000, 10000, 100000], "format": ",", "title": null}},
  "y": {"field": "y", "type": "quantitative", "scale": {"domain": [0, 5], "nice": false}, "axis": {"values": [0, 1, 2, 3, 4, 5], "title": ["Optical density at 450 nm", "——————————►"], "titlePadding": 2, "titleLineHeight": 18}},
  "stroke": {"field": "s", "type": "nominal", "scale": {"domain": ["73","59","35","2D22 plate 1","66","39","21","2D22 plate 2","64","38","10","SOSV-IgG plate 1","_1","_2","_3","SOSV IgG plate 2"], "range": ["#1e7b7b","#1e7b7b","#2a55d8","#f06b6b","#e6141c","#ee2a2a","#1a6cf0","#8e7cbf","#3a2270","#9f8bd0","#1e7b7b","#3a2270","transparent","transparent","transparent","#3aa0f0"]}, "legend": {"columns": 4, "title": null, "labelExpr": "indexof(datum.label,'_')==0 ? '' : datum.label"}}
},
"layer": [
{"data": {"name": "pts"}, "transform": [{"filter": "datum.p=='B1'"}], "mark": {"type": "line", "interpolate": "monotone", "strokeWidth": 1.2}, "encoding": {}},
{"data": {"name": "err"}, "transform": [{"filter": "datum.p=='B1'"}], "mark": {"type": "rule", "strokeWidth": 1.5},
 "encoding": {"y": {"field": "lo", "type": "quantitative", "scale": {"domain": [0, 5], "nice": false}, "axis": {"values": [0, 1, 2, 3, 4, 5], "title": ["Optical density at 450 nm", "——————————►"], "titlePadding": 2, "titleLineHeight": 18}}, "y2": {"field": "hi"}}},
{"data": {"name": "err"}, "transform": [{"filter": "datum.p=='B1'"}], "mark": {"type": "point", "shape": "stroke", "size": 60, "strokeWidth": 1.5, "opacity": 1},
 "encoding": {"y": {"field": "lo", "type": "quantitative", "scale": {"domain": [0, 5], "nice": false}, "axis": {"values": [0, 1, 2, 3, 4, 5], "title": ["Optical density at 450 nm", "——————————►"], "titlePadding": 2, "titleLineHeight": 18}}}},
{"data": {"name": "err"}, "transform": [{"filter": "datum.p=='B1'"}], "mark": {"type": "point", "shape": "stroke", "size": 60, "strokeWidth": 1.5, "opacity": 1},
 "encoding": {"y": {"field": "hi", "type": "quantitative", "scale": {"domain": [0, 5], "nice": false}, "axis": {"values": [0, 1, 2, 3, 4, 5], "title": ["Optical density at 450 nm", "——————————►"], "titlePadding": 2, "titleLineHeight": 18}}}},
{"data": {"name": "pts"}, "transform": [{"filter": "datum.p=='B1'"}], "mark": {"type": "point", "filled": true, "size": 55, "strokeWidth": 1.2, "opacity": 1},
 "encoding": {
  "fill": {"field": "s", "type": "nominal", "scale": {"domain": ["73","59","35","2D22 plate 1","66","39","21","2D22 plate 2","64","38","10","SOSV-IgG plate 1","_1","_2","_3","SOSV IgG plate 2"], "range": ["#1e7b7b","#8fd3d3","#2a55d8","#ffd6d6","#e6141c","#ffffff","#1a6cf0","#b9a9e3","#7c62b0","#a994d8","#2a8f8f","#8f7bc8","transparent","transparent","transparent","#3aa0f0"]}, "legend": {"columns": 4, "title": null, "labelExpr": "indexof(datum.label,'_')==0 ? '' : datum.label"}},
  "shape": {"field": "s", "type": "nominal", "scale": {"domain": ["73","59","35","2D22 plate 1","66","39","21","2D22 plate 2","64","38","10","SOSV-IgG plate 1","_1","_2","_3","SOSV IgG plate 2"], "range": ["triangle-up","triangle-up","M0,-1L0.235,-0.324L0.951,-0.309L0.38,0.124L0.588,0.809L0,0.4L-0.588,0.809L-0.38,0.124L-0.951,-0.309L-0.235,-0.324Z","circle","diamond","diamond","circle","circle","circle","cross","square","square","circle","circle","circle","M-1,0L1,0M0,0L0,0.7"]}, "legend": {"columns": 4, "title": null, "labelExpr": "indexof(datum.label,'_')==0 ? '' : datum.label"}}
 }}
]
},
{
"width": 320, "height": 200, "title": "Pre- & post-fusion mAbs",
"encoding": {
  "x": {"field": "c", "type": "quantitative", "scale": {"type": "log", "domain": [1, 100000], "nice": false}, "axis": {"values": [10, 100, 1000, 10000, 100000], "format": ",", "title": null}},
  "y": {"field": "y", "type": "quantitative", "scale": {"domain": [0, 5], "nice": false}, "axis": {"values": [0, 1, 2, 3, 4, 5], "title": null}},
  "stroke": {"field": "s", "type": "nominal", "scale": {"domain": ["77","32","2D22 plate 1","68","23","2D22 plate 2","53","5","SOSV-IgG plate 1","44","2","SOSV IgG plate 2"], "range": ["#1450e0","#2a9a9a","#ff2a2a","#ff5a1a","#ff7a4a","#2e1a5e","#1e6ee8","#ff6a2a","#3a2270","#ff6a3a","#ff2020","#2a7ef0"]}, "legend": {"columns": 3, "title": null}}
},
"layer": [
{"data": {"name": "pts"}, "transform": [{"filter": "datum.p=='B2'"}], "mark": {"type": "line", "interpolate": "monotone", "strokeWidth": 2}, "encoding": {}},
{"data": {"name": "err"}, "transform": [{"filter": "datum.p=='B2'"}], "mark": {"type": "rule", "strokeWidth": 2},
 "encoding": {"y": {"field": "lo", "type": "quantitative", "scale": {"domain": [0, 5], "nice": false}, "axis": {"values": [0, 1, 2, 3, 4, 5], "title": null}}, "y2": {"field": "hi"}}},
{"data": {"name": "err"}, "transform": [{"filter": "datum.p=='B2'"}], "mark": {"type": "point", "shape": "stroke", "size": 80, "strokeWidth": 2, "opacity": 1},
 "encoding": {"y": {"field": "lo", "type": "quantitative", "scale": {"domain": [0, 5], "nice": false}, "axis": {"values": [0, 1, 2, 3, 4, 5], "title": null}}}},
{"data": {"name": "err"}, "transform": [{"filter": "datum.p=='B2'"}], "mark": {"type": "point", "shape": "stroke", "size": 80, "strokeWidth": 2, "opacity": 1},
 "encoding": {"y": {"field": "hi", "type": "quantitative", "scale": {"domain": [0, 5], "nice": false}, "axis": {"values": [0, 1, 2, 3, 4, 5], "title": null}}}},
{"data": {"name": "pts"}, "transform": [{"filter": "datum.p=='B2'"}], "mark": {"type": "point", "filled": true, "size": 120, "strokeWidth": 2, "opacity": 1},
 "encoding": {
  "fill": {"field": "s", "type": "nominal", "scale": {"domain": ["77","32","2D22 plate 1","68","23","2D22 plate 2","53","5","SOSV-IgG plate 1","44","2","SOSV IgG plate 2"], "range": ["#1450e0","#5cc8c8","#ffffff","#ff5a1a","#ff8a5a","#b39ddb","#29b6f6","#ff6a2a","#9a85cf","#ffa080","transparent","#2a7ef0"]}, "legend": {"columns": 3, "title": null}},
  "shape": {"field": "s", "type": "nominal", "scale": {"domain": ["77","32","2D22 plate 1","68","23","2D22 plate 2","53","5","SOSV-IgG plate 1","44","2","SOSV IgG plate 2"], "range": ["square","M-1,0L1,0M0,-1L0,1","circle","triangle-down","M-1,-0.8L1,0.8M-1,0.8L1,-0.8","circle","square","circle","square","triangle-down","M-0.8,0.25a0.55,0.55 0 1,0 1.1,0a0.55,0.55 0 1,0 -1.1,0M0.14,-0.14L0.9,-0.9M0.35,-0.9L0.9,-0.9L0.9,-0.35","M-1,0L1,0M0,0L0,0.7"]}, "legend": {"columns": 3, "title": null}}
 }}
]
},
{
"width": 320, "height": 200, "title": "Post-fusion mAb",
"encoding": {
  "x": {"field": "c", "type": "quantitative", "scale": {"type": "log", "domain": [1, 100000], "nice": false}, "axis": {"values": [10, 100, 1000, 10000, 100000], "format": ",", "title": null}},
  "y": {"field": "y", "type": "quantitative", "scale": {"domain": [0, 5], "nice": false}, "axis": {"values": [0, 1, 2, 3, 4, 5], "title": null}},
  "stroke": {"field": "s", "type": "nominal", "scale": {"domain": ["85","_1","SOSV-IgG plate 1","2D22 plate 1","SOSV IgG plate 2","2D22 plate 2"], "range": ["#2a1a50","transparent","#3a2270","#ff3030","#2a7ef0","#2e1a5e"]}, "legend": {"columns": 2, "title": null, "labelExpr": "indexof(datum.label,'_')==0 ? '' : datum.label"}}
},
"layer": [
{"data": {"name": "pts"}, "transform": [{"filter": "datum.p=='B3'"}], "mark": {"type": "line", "interpolate": "monotone", "strokeWidth": 2}, "encoding": {}},
{"data": {"name": "err"}, "transform": [{"filter": "datum.p=='B3'"}], "mark": {"type": "rule", "strokeWidth": 2},
 "encoding": {"y": {"field": "lo", "type": "quantitative", "scale": {"domain": [0, 5], "nice": false}, "axis": {"values": [0, 1, 2, 3, 4, 5], "title": null}}, "y2": {"field": "hi"}}},
{"data": {"name": "err"}, "transform": [{"filter": "datum.p=='B3'"}], "mark": {"type": "point", "shape": "stroke", "size": 80, "strokeWidth": 2, "opacity": 1},
 "encoding": {"y": {"field": "lo", "type": "quantitative", "scale": {"domain": [0, 5], "nice": false}, "axis": {"values": [0, 1, 2, 3, 4, 5], "title": null}}}},
{"data": {"name": "err"}, "transform": [{"filter": "datum.p=='B3'"}], "mark": {"type": "point", "shape": "stroke", "size": 80, "strokeWidth": 2, "opacity": 1},
 "encoding": {"y": {"field": "hi", "type": "quantitative", "scale": {"domain": [0, 5], "nice": false}, "axis": {"values": [0, 1, 2, 3, 4, 5], "title": null}}}},
{"data": {"name": "pts"}, "transform": [{"filter": "datum.p=='B3'"}], "mark": {"type": "point", "filled": true, "size": 110, "strokeWidth": 2, "opacity": 1},
 "encoding": {
  "fill": {"field": "s", "type": "nominal", "scale": {"domain": ["85","_1","SOSV-IgG plate 1","2D22 plate 1","SOSV IgG plate 2","2D22 plate 2"], "range": ["#2a1a50","transparent","#9a85cf","#ffd0d0","#2a7ef0","#b39ddb"]}, "legend": {"columns": 2, "title": null, "labelExpr": "indexof(datum.label,'_')==0 ? '' : datum.label"}},
  "shape": {"field": "s", "type": "nominal", "scale": {"domain": ["85","_1","SOSV-IgG plate 1","2D22 plate 1","SOSV IgG plate 2","2D22 plate 2"], "range": ["circle","circle","square","circle","M-1,0L1,0M0,0L0,0.7","circle"]}, "legend": {"columns": 2, "title": null, "labelExpr": "indexof(datum.label,'_')==0 ? '' : datum.label"}}
 }}
]
}
]
}
]
}
]
}
